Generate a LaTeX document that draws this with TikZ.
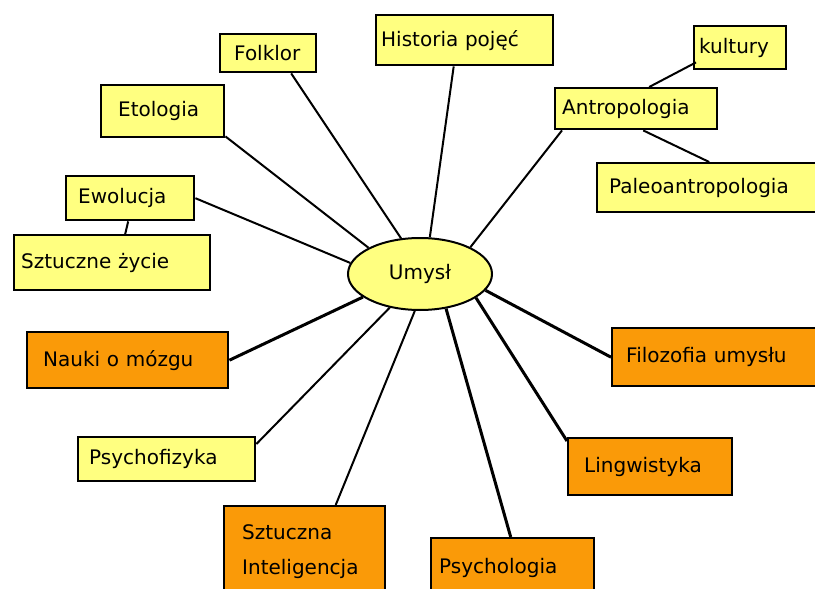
\documentclass[tikz,border=0pt]{standalone}
\usepackage{fontspec}
\setmainfont{DejaVu Sans}
\usetikzlibrary{shapes.geometric}
\definecolor{boxyellow}{HTML}{FFFF80}
\definecolor{boxorange}{HTML}{FA9A08}

\begin{document}
\begin{tikzpicture}[x=1pt,y=-1pt,
  font=\fontsize{20}{24}\selectfont,
  box/.style={draw, line width=2.4pt, fill=boxyellow, align=left, anchor=north west},
  obox/.style={box, fill=boxorange},
  link/.style={line width=2pt},
  boldlink/.style={line width=3pt}]

\useasboundingbox (0,0) rectangle (815,589);

% centre
\node[ellipse, draw, line width=2pt, fill=boxyellow,
  minimum width=144pt, minimum height=72pt] (umysl) at (420,274) {Umysł};

% yellow boxes
\node[box, inner xsep=14pt, text width=68pt, minimum height=38pt] (folk) at (219,33) {Folklor};
\node[box, inner xsep=5pt, text width=167pt, minimum height=50pt] (hist) at (375,14) {Historia pojęć};
\node[box, inner xsep=5pt, text width=82pt, minimum height=43pt] (kult) at (693,25) {kultury};
\node[box, inner xsep=7pt, text width=148pt, minimum height=41pt] (antr) at (554,87) {Antropologia};
\node[box, inner xsep=12pt, text width=216pt, minimum height=49pt] (paleo) at (596,162) {Paleoantropologia};
\node[box, inner xsep=17pt, text width=89pt, minimum height=52pt] (etol) at (100,84) {Etologia};
\node[box, inner xsep=12pt, text width=104pt, minimum height=44pt] (ewol) at (65,175) {Ewolucja};
\node[box, inner xsep=7pt, text width=182pt, minimum height=55pt] (szyc) at (13,234) {Sztuczne życie};
\node[box, inner xsep=11pt, text width=155pt, minimum height=44pt] (psf) at (77,436) {Psychofizyka};

% orange boxes
\node[obox, inner xsep=16pt, text width=169pt, minimum height=56pt] (nauki) at (26,331) {Nauki o mózgu};
\node[obox, inner xsep=18pt, text width=125pt, minimum height=90pt] (si) at (223,505) {Sztuczna\\[11pt]Inteligencja};
\node[obox, inner xsep=8pt, text width=147pt, minimum height=60pt] (psl) at (430,537) {Psychologia};
\node[obox, inner xsep=16pt, text width=132pt, minimum height=57pt] (ling) at (567,437) {Lingwistyka};
\node[obox, inner xsep=14pt, text width=212pt, minimum height=58pt] (filo) at (611,327) {Filozofia umysłu};

% links
\draw[link] ([xshift=23pt]folk.south) -- (umysl.118);
\draw[link] ([xshift=-11pt]hist.south) -- (umysl.75);
\draw[link] ([xshift=8pt]antr.south west) -- (umysl.28);
\draw[link] ([xshift=3pt,yshift=8pt]kult.south west) -- ([xshift=13pt]antr.north);
\draw[link] ([xshift=7pt]antr.south) -- ([xshift=-8pt]paleo.north);
\draw[link] ([yshift=2pt]etol.south east) -- (umysl.153);
\draw[link] (ewol.east) -- (umysl.171);
\draw[link] ([xshift=-2pt]ewol.south) -- ([xshift=13pt]szyc.north);
\draw[boldlink] (nauki.east) -- (umysl.202);
\draw[link] ([yshift=-8pt]psf.north east) -- (umysl.228);
\draw[link] ([xshift=31pt]si.north) -- (umysl.262);
\draw[boldlink] ([xshift=-2pt]psl.north) -- (umysl.307);
\draw[boldlink] ([yshift=-4pt]ling.north west) -- (umysl.337);
\draw[boldlink] (filo.west) -- (umysl.346);

\end{tikzpicture}
\end{document}
